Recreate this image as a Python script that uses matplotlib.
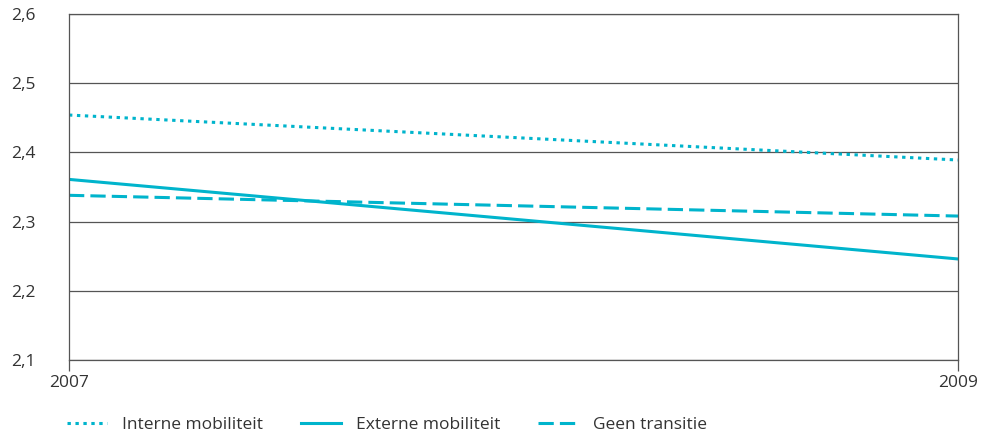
import matplotlib.pyplot as plt
from matplotlib.ticker import FuncFormatter

years = [2007, 2009]
interne = [2.454, 2.389]
externe = [2.361, 2.246]
geen = [2.338, 2.308]
labels = ['Interne mobiliteit', 'Externe mobiliteit', 'Geen transitie']

plt.rcParams['font.family'] = ['Open Sans', 'DejaVu Sans']
color = '#00b4cc'
grid = '#555555'
txt = '#333333'

fig = plt.figure(figsize=(9.88, 4.37), dpi=100)
ax = fig.add_axes([69 / 988, 1 - 360 / 437, (958 - 69) / 988, (360 - 14) / 437])

dotted = (0, (1.1, 1.5))
dashed = (0, (5, 2))
l1, = ax.plot(years, interne, color=color, lw=2.2, linestyle=dotted)
l2, = ax.plot(years, externe, color=color, lw=2.2)
l3, = ax.plot(years, geen, color=color, lw=2.2, linestyle=dashed)

ax.set_xlim(2007, 2009)
ax.set_ylim(2.1, 2.6)
ax.set_yticks([2.1, 2.2, 2.3, 2.4, 2.5, 2.6])
ax.yaxis.set_major_formatter(FuncFormatter(lambda v, p: f'{v:.1f}'.replace('.', ',')))
ax.set_xticks(years)
ax.grid(axis='y', color=grid, lw=0.9)
ax.set_axisbelow(True)
for s in ax.spines.values():
    s.set_color(grid)
    s.set_linewidth(0.9)
ax.tick_params(axis='y', length=0, pad=42, labelsize=12.5, labelcolor=txt)
for t in ax.get_yticklabels():
    t.set_horizontalalignment('left')
ax.tick_params(axis='x', length=8, width=0.9, color=grid, direction='out', pad=3,
               labelsize=12.5, labelcolor=txt)

fig.legend([l1, l2, l3], labels, loc='center left', bbox_to_anchor=(67 / 988, 1 - 425 / 437),
           ncol=3, frameon=False, fontsize=12.5, handlelength=2.3, handletextpad=0.85,
           columnspacing=2.2, labelcolor=txt, borderpad=0, borderaxespad=0)

fig.savefig('out.png', dpi=100)
